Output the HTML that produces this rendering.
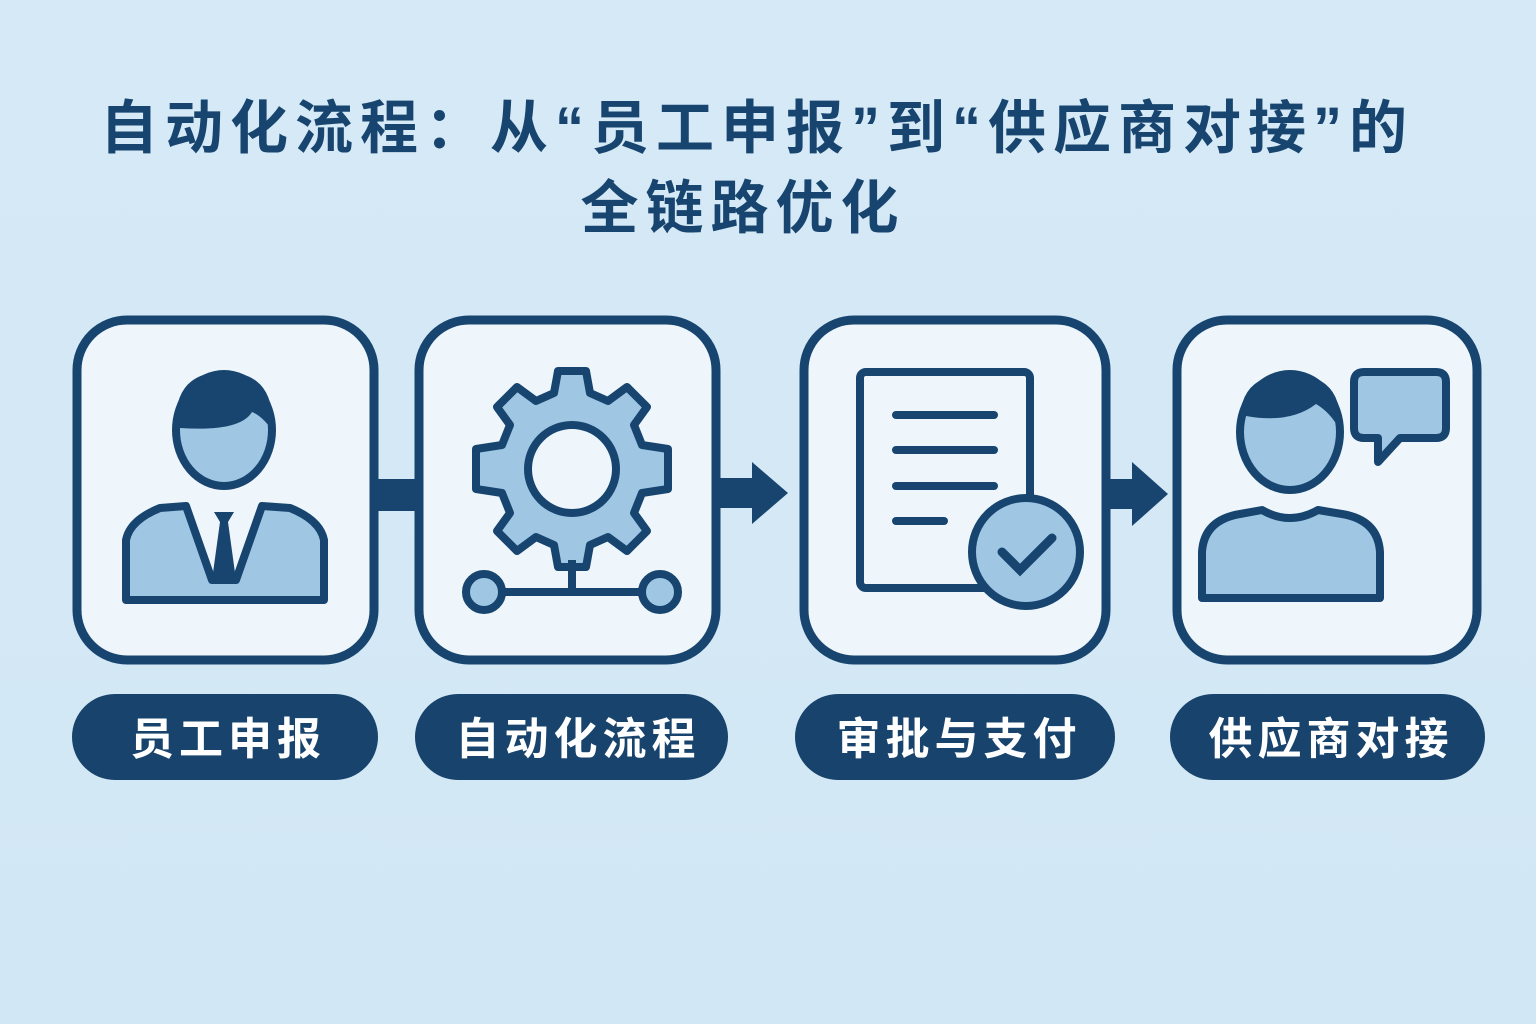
<!DOCTYPE html>
<html><head><meta charset="utf-8"><style>
html,body{margin:0;padding:0;}
body{width:1536px;height:1024px;background:linear-gradient(180deg,#d6e9f6,#d2e7f5);overflow:hidden;}
svg{display:block}
text{font-family:"Liberation Sans","Noto Sans CJK SC",sans-serif;font-weight:bold;}
</style></head><body>
<svg width="1536" height="1024" viewBox="0 0 1536 1024">
<defs>
<g id="gear">
<path d="M-14,-98 L14,-98 L18,-76 L36,-68 L55,-82 L75,-62 L62,-44 L70,-24 L96,-20 L96,20 L70,24 L62,44 L75,62 L55,82 L36,68 L18,76 L14,98 L-14,98 L-18,76 L-36,68 L-55,82 L-75,62 L-62,44 L-70,24 L-96,20 L-96,-20 L-70,-24 L-62,-44 L-75,-62 L-55,-82 L-36,-68 L-18,-76 Z" fill="#9fc6e3" stroke="#17456f" stroke-width="8" stroke-linejoin="round"/>
<circle r="44" fill="#eef6fc" stroke="#17456f" stroke-width="8"/>
</g>
</defs>
<text x="757" y="148" font-size="58" fill="#17456f" text-anchor="middle" letter-spacing="7">自动化流程：从“员工申报”到“供应商对接”的</text>
<text x="743" y="228" font-size="58" fill="#17456f" text-anchor="middle" letter-spacing="7">全链路优化</text>

<rect x="370" y="479" width="52" height="32" fill="#17456f"/>
<rect x="714" y="478" width="48" height="30" fill="#17456f"/>
<polygon points="752,462 788,493 752,524" fill="#17456f"/>
<rect x="1104" y="479" width="36" height="30" fill="#17456f"/>
<polygon points="1132,462 1168,494 1132,526" fill="#17456f"/>

<g fill="#eef6fc" stroke="#17456f" stroke-width="9">
<rect x="77" y="320" width="297" height="340" rx="50"/>
<rect x="419" y="320" width="297" height="340" rx="50"/>
<rect x="804" y="320" width="302" height="340" rx="50"/>
<rect x="1177" y="320" width="300" height="340" rx="50"/>
</g>

<g stroke="#17456f" stroke-width="8" stroke-linejoin="round">
<path d="M126,600 L126,540 Q130,520 160,508 L186,506 L212,580 L236,580 L262,506 L290,508 Q320,520 324,540 L324,600 Z" fill="#9fc6e3"/>
<ellipse cx="224" cy="430" rx="48" ry="56" fill="#9fc6e3"/>
</g>
<path d="M176,430 Q172,372 224,372 Q276,372 272,430 Q262,416 252,412 Q240,432 180,428 Z" fill="#17456f"/>
<path d="M214,512 L234,512 L228,522 L236,580 L212,580 L220,522 Z" fill="#17456f"/>

<g transform="translate(572,469)"><use href="#gear"/></g>
<g stroke="#17456f" stroke-width="8" fill="#9fc6e3">
<line x1="572" y1="560" x2="572" y2="592"/>
<line x1="500" y1="592" x2="644" y2="592"/>
<circle cx="484" cy="592" r="18"/>
<circle cx="660" cy="592" r="18"/>
</g>

<g stroke="#17456f" stroke-width="8" stroke-linecap="round">
<rect x="860" y="372" width="170" height="216" rx="6" fill="#eef6fc"/>
<line x1="896" y1="415" x2="994" y2="415"/>
<line x1="896" y1="450" x2="994" y2="450"/>
<line x1="896" y1="486" x2="994" y2="486"/>
<line x1="896" y1="521" x2="944" y2="521"/>
<circle cx="1026" cy="552" r="54" fill="#9fc6e3"/>
<polyline points="1002,552 1020,570 1052,538" fill="none" stroke-width="9"/>
</g>

<g stroke="#17456f" stroke-width="8" stroke-linejoin="round">
<path d="M1202,598 L1202,552 Q1204,520 1240,514 L1262,510 Q1290,526 1318,510 L1342,514 Q1378,520 1380,552 L1380,598 Z" fill="#9fc6e3"/>
<ellipse cx="1290" cy="432" rx="50" ry="58" fill="#9fc6e3"/>
<path d="M1354,382 Q1354,372 1364,372 L1436,372 Q1446,372 1446,382 L1446,428 Q1446,438 1436,438 L1400,438 L1378,462 L1378,438 L1364,438 Q1354,438 1354,428 Z" fill="#9fc6e3"/>
</g>
<path d="M1240,430 Q1236,374 1290,374 Q1344,374 1340,430 Q1330,412 1316,404 Q1290,424 1246,416 Z" fill="#17456f"/>

<g fill="#17436c">
<rect x="72" y="694" width="306" height="86" rx="43"/>
<rect x="415" y="694" width="313" height="86" rx="43"/>
<rect x="795" y="694" width="320" height="86" rx="43"/>
<rect x="1170" y="694" width="315" height="86" rx="43"/>
</g>
<g fill="#ffffff" font-size="44" text-anchor="middle" letter-spacing="5">
<text x="228" y="754">员工申报</text>
<text x="578" y="754">自动化流程</text>
<text x="959" y="754">审批与支付</text>
<text x="1331" y="754">供应商对接</text>
</g>
</svg>
</body></html>
